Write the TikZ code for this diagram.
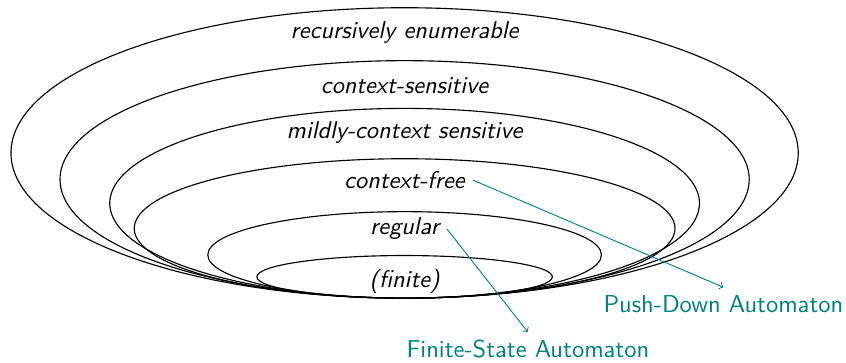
\documentclass[tikz,border=0pt]{standalone}
\usepackage{xcolor}
\usepackage{tikz}
\usetikzlibrary{arrows, positioning, calc}
\definecolor{automatoncolor}{RGB}{0, 128, 128}

\begin{document}
\begin{tikzpicture}[
    langclass/.style={font=\fontsize{10.7}{13}\sffamily\itshape},
    automaton/.style={font=\fontsize{10.8}{13}\sffamily, text=automatoncolor},
    classline/.style={line width=0.5pt}
]
    \useasboundingbox (-6.27,-0.99) rectangle (6.84,4.62);

    % Ellipses (all touching at the bottom)
    \draw[classline] (0,2.25) ellipse (6.10cm and 2.25cm);
    \draw[classline] (0,1.84) ellipse (5.34cm and 1.84cm);
    \draw[classline] (0,1.47) ellipse (4.57cm and 1.47cm);
    \draw[classline] (0,1.08) ellipse (4.19cm and 1.08cm);
    \draw[classline] (0,0.67) ellipse (3.05cm and 0.67cm);
    \draw[classline] (0,0.33) ellipse (2.29cm and 0.33cm);

    % Nodes
    \node[langclass] (re) at (0,4.12) {recursively enumerable};
    \node[langclass] (cs) at (0,3.29) {context-sensitive};
    \node[langclass] (mcs) at (0,2.56) {mildly-context sensitive};
    \node[langclass] (cf) at (0,1.83) {context-free};
    \node[langclass] (reg) at (0,1.07) {regular};
    \node[langclass] (fin) at (0,0.26) {(finite)};

    \node[automaton] (pda) at (4.94,-0.09) {Push-Down Automaton};
    \node[automaton] (fsa) at (1.91,-0.79) {Finite-State Automaton};

    % Arrows
    \draw[->, automatoncolor] (cf.east) -- (pda.north);
    \draw[->, automatoncolor] (reg.east) -- (fsa.north);
\end{tikzpicture}
\end{document}
